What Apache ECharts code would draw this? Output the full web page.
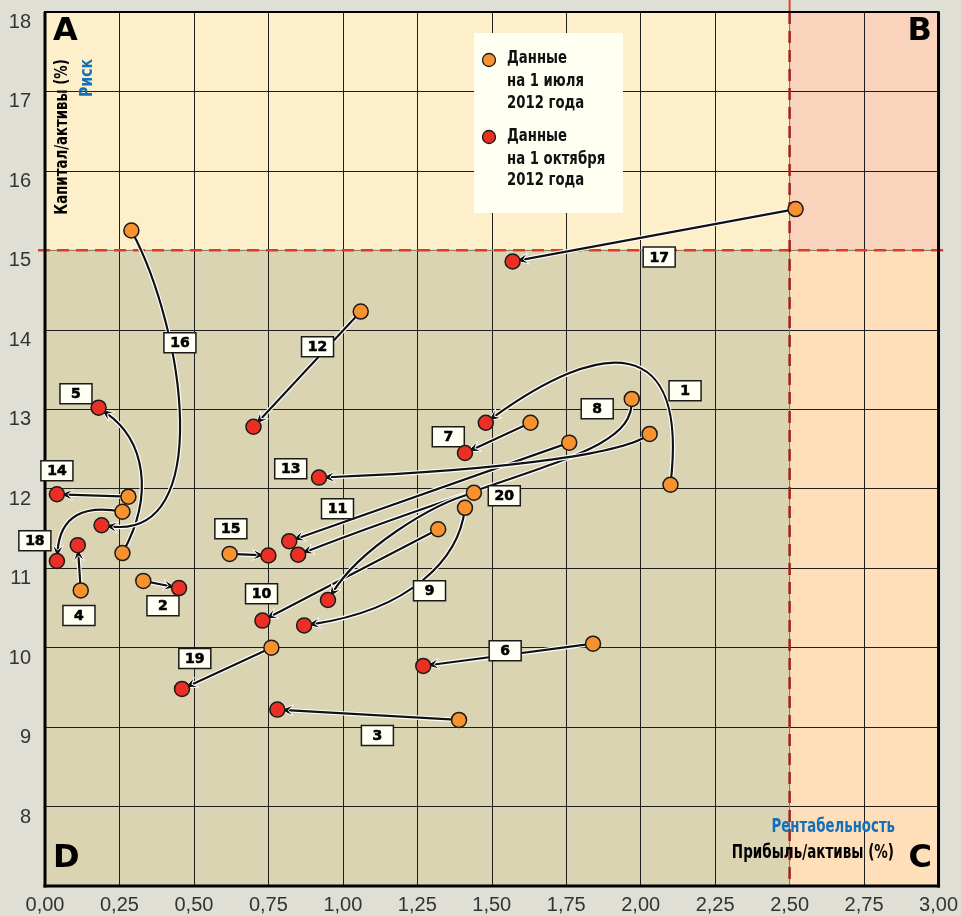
<!DOCTYPE html>
<html>
<head>
<meta charset="utf-8">
<script src="https://cdn.jsdelivr.net/npm/echarts@6/dist/echarts.min.js"></script>
<style>
html,body{margin:0;padding:0;background:#e0dfd6}
#main{width:961px;height:916px}
</style>
</head>
<body>
<div id="main"></div>
<script>
// банки (номера на графике)
var bankIds = [1, 2, 3, 4, 5, 6, 7, 8, 9, 10, 11, 12, 13, 14, 15, 16, 17, 18, 19, 20];
// 1 июля 2012
var julyProfit  = [2.10, 0.33, 1.39, 0.12, 0.26, 1.84, 1.63, 1.97, 1.41, 1.32, 1.76, 1.06, 2.03, 0.28, 0.62, 0.29, 2.52, 0.26, 0.76, 1.44];
var julyCapital = [12.05, 10.84, 9.09, 10.72, 11.19, 10.05, 12.83, 13.13, 11.76, 11.49, 12.58, 14.23, 12.69, 11.90, 11.18, 15.25, 15.52, 11.71, 10.00, 11.95];
// 1 октября 2012
var octProfit  = [1.48, 0.45, 0.78, 0.11, 0.18, 1.27, 1.41, 0.85, 0.87, 0.73, 0.82, 0.70, 0.92, 0.04, 0.75, 0.19, 1.57, 0.04, 0.46, 0.95];
var octCapital = [12.83, 10.75, 9.22, 11.29, 13.02, 9.77, 12.45, 11.17, 10.28, 10.34, 11.34, 12.78, 12.14, 11.93, 11.16, 11.54, 14.86, 11.09, 9.48, 10.60];

var riskLevel = 15, profitLevel = 2.5;
var xMin = 0, xMax = 3, yMin = 7, yMax = 18;

// где стоят номера (в единицах осей)
var labelX = [2.149, 0.396, 1.116, 0.114, 0.104, 1.545, 1.354, 1.854, 1.291, 0.727, 0.982, 0.915, 0.825, 0.040, 0.624, 0.453, 2.062, -0.034, 0.503, 1.542];
var labelY = [13.233, 10.528, 8.893, 10.403, 13.195, 9.962, 12.654, 13.006, 10.717, 10.679, 11.748, 13.786, 12.252, 12.226, 11.497, 13.836, 14.918, 11.346, 9.862, 11.912];

// изгибы стрелок: контрольные точки кривой
var bends = {
  1:  [2.162, 14.0, 1.861, 13.87],
  5:  [0.369, 11.925, 0.335, 12.616],
  8:  [1.978, 12.428, 1.67, 12.36],
  9:  [1.391, 11.107, 1.224, 10.478],
  13: [1.961, 12.465, 1.592, 12.239],
  16: [0.469, 14.0, 0.570, 11.36],
  18: [0.134, 11.80, 0.050, 11.673],
  20: [1.291, 11.80, 1.056, 11.233]
};

var zones = [
  [xMin, riskLevel, profitLevel, yMax, '#fcefca'],
  [profitLevel, riskLevel, xMax, yMax, '#f9d3bb'],
  [profitLevel, yMin, xMax, riskLevel, '#fedfba'],
  [xMin, yMin, profitLevel, riskLevel, '#dad4b3']
];

var narrow = '"Liberation Sans Narrow", "DejaVu Sans", sans-serif';
var orange = '#f7922e', red = '#ec2f25';

var myChart = echarts.init(document.getElementById('main'));

function pairs(xs, ys) {
  return xs.map(function (x, i) { return [x, ys[i]]; });
}

function renderArrow(params, api) {
  var i = params.dataIndex;
  var p0 = api.coord([julyProfit[i], julyCapital[i]]);
  var p3 = api.coord([octProfit[i], octCapital[i]]);
  var b = bends[bankIds[i]];
  var c1, c2;
  if (b) {
    c1 = api.coord([b[0], b[1]]);
    c2 = api.coord([b[2], b[3]]);
  }
  var from = b ? c2 : p0;
  var dx = p3[0] - from[0], dy = p3[1] - from[1];
  var len = Math.sqrt(dx * dx + dy * dy);
  var ux = dx / len, uy = dy / len, nx = -uy, ny = ux;
  var tip = [p3[0] - ux * 3, p3[1] - uy * 3];
  var head = [
    tip,
    [tip[0] - ux * 13 + nx * 5.5, tip[1] - uy * 13 + ny * 5.5],
    [tip[0] - ux * 8, tip[1] - uy * 8],
    [tip[0] - ux * 13 - nx * 5.5, tip[1] - uy * 13 - ny * 5.5]
  ];
  var shape = b
    ? { x1: p0[0], y1: p0[1], cpx1: c1[0], cpy1: c1[1], cpx2: c2[0], cpy2: c2[1], x2: tip[0] - ux * 6, y2: tip[1] - uy * 6 }
    : { x1: p0[0], y1: p0[1], x2: tip[0] - ux * 6, y2: tip[1] - uy * 6 };
  var kind = b ? 'bezierCurve' : 'line';
  return {
    type: 'group',
    children: [
      { type: kind, shape: shape, style: { stroke: '#fff', lineWidth: 4.5, fill: null } },
      { type: kind, shape: shape, style: { stroke: '#111', lineWidth: 2.2, fill: null } },
      { type: 'polygon', shape: { points: head }, style: { fill: '#111', stroke: '#fff', lineWidth: 1 } }
    ]
  };
}

function txt(x, y, s, font, color, align, sx, rot) {
  return {
    type: 'text', x: x, y: y, z: 101, scaleX: sx || 1, rotation: rot || 0,
    style: { text: s, font: font, fill: color, align: align, verticalAlign: 'middle' }
  };
}

var option = {
  backgroundColor: '#e0dfd6',
  animation: false,
  grid: { left: 45, right: 21, top: 12, bottom: 30 },
  xAxis: {
    type: 'value', min: xMin, max: xMax, interval: 0.25,
    axisLine: { show: false }, axisTick: { show: false },
    splitLine: { lineStyle: { color: '#1e1e1e', width: 1 } },
    axisLabel: {
      fontSize: 20, color: '#333', margin: 9, fontFamily: 'Liberation Sans',
      formatter: function (v) { return v.toFixed(2).replace('.', ','); }
    }
  },
  yAxis: {
    type: 'value', min: yMin, max: yMax, interval: 1,
    axisLine: { show: false }, axisTick: { show: false },
    splitLine: { lineStyle: { color: '#1e1e1e', width: 1 } },
    axisLabel: {
      fontSize: 20, color: '#333', margin: 14, fontFamily: 'Liberation Sans',
      verticalAlign: 'top', lineHeight: 21,
      formatter: function (v) { return v === yMin ? '' : String(v); }
    }
  },
  series: [
    {
      type: 'custom', z: -1, silent: true,
      data: zones.map(function (z) { return [z[0], z[1], z[2], z[3]]; }),
      renderItem: function (params, api) {
        var a = api.coord([api.value(0), api.value(3)]);
        var b = api.coord([api.value(2), api.value(1)]);
        return {
          type: 'rect',
          shape: { x: a[0], y: a[1], width: b[0] - a[0], height: b[1] - a[1] },
          style: { fill: zones[params.dataIndex][4] }
        };
      }
    },
    {
      // пороговые линии и рамка
      type: 'custom', silent: true, data: [[0, 0]],
      renderItem: function (params, api) {
        var tl = api.coord([xMin, yMax]), br = api.coord([xMax, yMin]);
        var h = api.coord([xMin, riskLevel])[1];
        var v = api.coord([profitLevel, yMin])[0];
        return {
          type: 'group',
          children: [
            { type: 'line', shape: { x1: tl[0] - 7, y1: h, x2: br[0] + 5, y2: h }, style: { stroke: '#9a9478', lineWidth: 1 } },
            { type: 'line', shape: { x1: tl[0] - 7, y1: h, x2: br[0] + 5, y2: h }, style: { stroke: '#dd3a28', lineWidth: 2.5, lineDash: [12, 7] } },
            { type: 'line', shape: { x1: v, y1: 0, x2: v, y2: tl[1] }, style: { stroke: '#e0402a', lineWidth: 2 } },
            { type: 'line', shape: { x1: v, y1: tl[1], x2: v, y2: br[1] }, style: { stroke: '#8c8a72', lineWidth: 1 } },
            { type: 'line', shape: { x1: v, y1: tl[1], x2: v, y2: br[1] }, style: { stroke: '#a3211d', lineWidth: 2.5, lineDash: [12, 7] } },
            { type: 'line', shape: { x1: tl[0] - 1, y1: tl[1], x2: br[0] + 1, y2: tl[1] }, style: { stroke: '#000', lineWidth: 2 } },
            { type: 'line', shape: { x1: tl[0], y1: tl[1], x2: tl[0], y2: br[1] + 1.5 }, style: { stroke: '#000', lineWidth: 3 } },
            { type: 'line', shape: { x1: br[0], y1: tl[1], x2: br[0], y2: br[1] + 1.5 }, style: { stroke: '#000', lineWidth: 3 } },
            { type: 'line', shape: { x1: tl[0] - 1.5, y1: br[1], x2: br[0] + 1.5, y2: br[1] }, style: { stroke: '#000', lineWidth: 3 } }
          ]
        };
      }
    },
    {
      name: 'Данные на 1 октября 2012 года',
      type: 'scatter', symbolSize: 15,
      data: pairs(octProfit, octCapital),
      itemStyle: { color: red, borderColor: '#1a1a1a', borderWidth: 1.5, opacity: 1 }
    },
    {
      type: 'custom', silent: true,
      data: pairs(julyProfit, julyCapital),
      renderItem: renderArrow
    },
    {
      name: 'Данные на 1 июля 2012 года',
      type: 'scatter', symbolSize: 15,
      data: pairs(julyProfit, julyCapital),
      itemStyle: { color: orange, borderColor: '#1a1a1a', borderWidth: 1.5, opacity: 1 }
    },
    {
      type: 'custom', silent: true,
      data: pairs(labelX, labelY),
      renderItem: function (params, api) {
        var i = params.dataIndex;
        var c = api.coord([labelX[i], labelY[i]]);
        return {
          type: 'group',
          children: [
            { type: 'rect', shape: { x: c[0] - 16, y: c[1] - 10, width: 32, height: 20 }, style: { fill: '#fffff4', stroke: '#1a1a1a', lineWidth: 1.5 } },
            { type: 'text', x: c[0], y: c[1] + 1, style: { text: String(bankIds[i]), fill: '#000', stroke: '#000', lineWidth: 0.6, font: 'bold 14px "DejaVu Sans"', align: 'center', verticalAlign: 'middle' } }
          ]
        };
      }
    }
  ],
  graphic: [
    txt(53, 32, 'A', 'bold 32px "DejaVu Sans"', '#000', 'left'),
    txt(932, 32, 'B', 'bold 32px "DejaVu Sans"', '#000', 'right'),
    txt(932, 859, 'C', 'bold 32px "DejaVu Sans"', '#000', 'right'),
    txt(53, 859, 'D', 'bold 32px "DejaVu Sans"', '#000', 'left'),
    txt(62, 137, 'Капитал/активы (%)', 'bold 18px ' + narrow, '#000', 'center', 0.74, Math.PI / 2),
    txt(87, 78, 'Риск', 'bold 18px ' + narrow, '#1470b8', 'center', 0.78, Math.PI / 2),
    txt(895, 827, 'Рентабельность', 'bold 19px ' + narrow, '#1470b8', 'right', 0.70),
    txt(894, 853, 'Прибыль/активы (%)', 'bold 19px ' + narrow, '#000', 'right', 0.71),
    { type: 'rect', z: 100, shape: { x: 474, y: 33, width: 149, height: 180 }, style: { fill: '#fffff2' } },
    { type: 'circle', z: 101, shape: { cx: 489, cy: 60, r: 6.5 }, style: { fill: orange, stroke: '#1a1a1a', lineWidth: 1.3 } },
    { type: 'circle', z: 101, shape: { cx: 489, cy: 137, r: 6.5 }, style: { fill: red, stroke: '#1a1a1a', lineWidth: 1.3 } },
    txt(507, 59, 'Данные', 'bold 17px ' + narrow, '#111', 'left', 0.78),
    txt(507, 81.5, 'на 1 июля', 'bold 17px ' + narrow, '#111', 'left', 0.78),
    txt(507, 104, '2012 года', 'bold 17px ' + narrow, '#111', 'left', 0.78),
    txt(507, 137, 'Данные', 'bold 17px ' + narrow, '#111', 'left', 0.78),
    txt(507, 159.5, 'на 1 октября', 'bold 17px ' + narrow, '#111', 'left', 0.78),
    txt(507, 181, '2012 года', 'bold 17px ' + narrow, '#111', 'left', 0.78)
  ]
};

myChart.setOption(option);
</script>
</body>
</html>
